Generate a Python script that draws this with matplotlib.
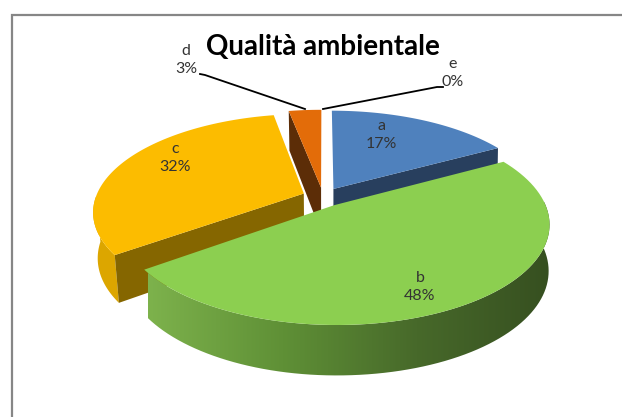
import numpy as np
import matplotlib
matplotlib.use("Agg")
import matplotlib.pyplot as plt
from matplotlib.patches import Polygon
from matplotlib.colors import LinearSegmentedColormap

title = "Qualità ambientale"
categories = ["a", "b", "c", "d", "e"]
percent = [17, 48, 32, 3, 0]

top_colors = ["#4f81bd", "#8ccf50", "#fcbc00", "#e36c09", "#9bbb59"]
cut_colors = ["#283f5e", None, "#856600", "#5c2d07", None]

# fake 3d view, screen pixels
cx, cy = 323., 197.
rx, ry = 208., 95.
persp = 0.18
explode = 0.10
label_pos = [(381, 135), (420, 287), (175, 158), (186, 60), (453, 73)]

plt.rcParams["font.family"] = ["Lato", "DejaVu Sans"]

fig = plt.figure(figsize=(6.22, 4.17), dpi=100)
ax = fig.add_axes([0, 0, 1, 1])
ax.set_xlim(0, 622)
ax.set_ylim(417, 0)
ax.axis("off")


def project(X, Y, down=False):
    s = 1. / (1. + persp * Y)
    x = rx * X * s
    y = ry * Y * s
    if down:
        x = np.where(x < 0, x * 0.98, x * 0.996)
        y = y - (45. - 5. * Y)
    return cx + x, cy - y


def rim(t1, t2, mid, n=80):
    t = np.radians(np.linspace(t1, t2, n))
    m = np.radians(mid)
    return np.sin(t) + explode * np.sin(m), np.cos(t) + explode * np.cos(m)


def apex(mid):
    m = np.radians(mid)
    return np.array([explode * np.sin(m)]), np.array([explode * np.cos(m)])


def cut_face(t, mid):
    X0, Y0 = apex(mid)
    X1, Y1 = rim(t, t, mid, 2)
    X = np.array([X0[0], X1[0]])
    Y = np.array([Y0[0], Y1[0]])
    xt, yt = project(X, Y)
    xb, yb = project(X, Y, down=True)
    return np.column_stack([[xt[0], xt[1], xb[1], xb[0]], [yt[0], yt[1], yb[1], yb[0]]])


def side_poly(t1, t2, mid):
    X, Y = rim(t1, t2, mid)
    xt, yt = project(X, Y)
    xb, yb = project(X, Y, down=True)
    return np.column_stack([np.r_[xt, xb[::-1]], np.r_[yt, yb[::-1]]])


def top_poly(t1, t2, mid):
    X, Y = rim(t1, t2, mid)
    X0, Y0 = apex(mid)
    x, y = project(np.r_[X0, X], np.r_[Y0, Y])
    return np.column_stack([x, y])


# angles of each slice, clockwise from twelve o'clock
ends = np.cumsum(percent) * 3.6
starts = ends - np.array(percent) * 3.6
mids = (starts + ends) / 2.

# frame of the original chart area
ax.plot([11.5, 11.5, 622], [417, 14.5, 14.5], color="#868686", lw=1.6, solid_joinstyle="miter", zorder=1)

# back slices first
ax.add_patch(Polygon(side_poly(starts[2], 268., mids[2]), fc="#dca600", ec="none", zorder=2))
for i, t in [(2, starts[2]), (3, starts[3]), (0, ends[0])]:
    ax.add_patch(Polygon(cut_face(t, mids[i]), fc=cut_colors[i], ec="none", zorder=2))
    ax.add_patch(Polygon(top_poly(starts[i], ends[i], mids[i]), fc=top_colors[i], ec="none", zorder=3))

# big green slice, its side has a gradient
patch = Polygon(side_poly(88., ends[1], mids[1]), fc="none", ec="none", zorder=4)
ax.add_patch(patch)
cm = LinearSegmentedColormap.from_list("g", ["#7db24c", "#5f9036", "#47692a", "#364f20"])
im = ax.imshow(np.linspace(0, 1, 256).reshape(1, -1), extent=[148, 552, 380, 160], cmap=cm,
               aspect="auto", zorder=4)
im.set_clip_path(patch)
ax.set_xlim(0, 622)
ax.set_ylim(417, 0)
ax.add_patch(Polygon(top_poly(starts[1], ends[1], mids[1]), fc=top_colors[1], ec="none", zorder=5))

# leader lines
ax.plot([200, 205, 305], [74, 75, 109], color="black", lw=1.3, zorder=6)
ax.plot([323, 437, 443], [109, 87, 87], color="black", lw=1.3, zorder=6)

for i in range(len(categories)):
    ax.text(label_pos[i][0], label_pos[i][1], "%s\n%d%%" % (categories[i], percent[i]),
            ha="center", va="center", fontsize=11.5, color="#333333", linespacing=1.4, zorder=7)

ax.text(323, 47, title, ha="center", va="center", fontsize=20, fontweight="bold", color="black", zorder=7)

fig.savefig("out.png", dpi=100)
